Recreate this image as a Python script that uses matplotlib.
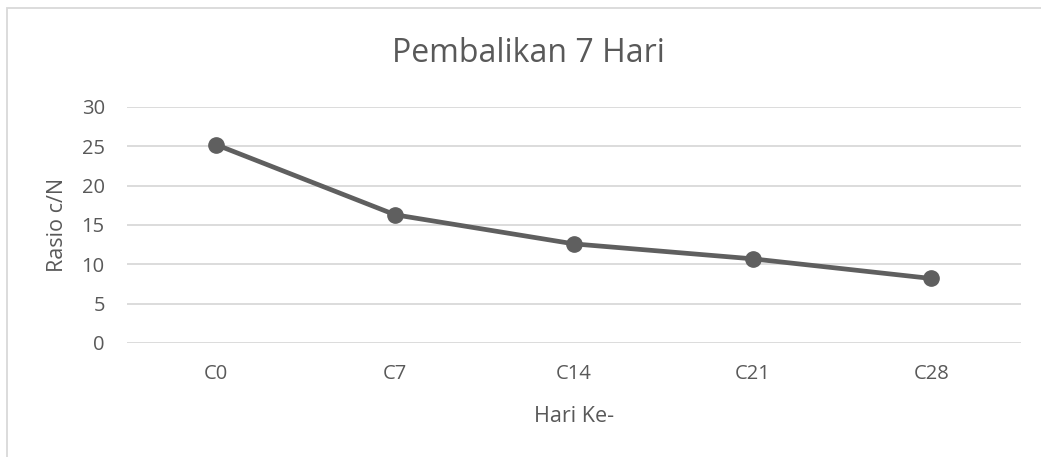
import matplotlib
matplotlib.use("Agg")
import matplotlib.pyplot as plt
from matplotlib.patches import Rectangle

categories = ["C0", "C7", "C14", "C21", "C28"]
rasio_cn = [25.2, 16.3, 12.6, 10.7, 8.2]
y_ticks = [0, 5, 10, 15, 20, 25, 30]

title = "Pembalikan 7 Hari"
xlabel = "Hari Ke-"
ylabel = "Rasio c/N"

plt.rcParams['font.family'] = ['Open Sans', 'DejaVu Sans']
text_color = "#595959"
W, H = 1041, 457

fig = plt.figure(figsize=(W / 100, H / 100), dpi=100)
fig.patches.append(Rectangle((7 / W, -0.1), 1.2, 1 - 8 / H + 0.1,
                             transform=fig.transFigure, fill=False,
                             edgecolor="#d9d9d9", linewidth=1.3))

ax = fig.add_axes([127 / W, 1 - 343 / H, (1020.7 - 127) / W, (343 - 107) / H])
x = list(range(len(categories)))
ax.plot(x, rasio_cn, color="#5f5f5f", linewidth=3.4, marker="o",
        markersize=11, solid_capstyle="round", zorder=3)

ax.set_xlim(-0.5, len(categories) - 0.5)
ax.set_ylim(0, 30)
ax.set_yticks(y_ticks)
ax.set_xticks(x)
ax.set_xticklabels(categories)
ax.yaxis.grid(True, color="#d9d9d9", linewidth=1.3)
ax.set_axisbelow(True)
for s in ax.spines.values():
    s.set_visible(False)
ax.tick_params(axis="both", length=0, labelsize=14.5, colors=text_color)
ax.tick_params(axis="y", pad=16)
ax.tick_params(axis="x", pad=15)

fig.text(574 / W, 1 - 422 / H, xlabel, ha="center", va="baseline",
         fontsize=15.5, color=text_color)
fig.text(63 / W, 1 - 225 / H, ylabel, ha="center", va="baseline",
         rotation=90, rotation_mode="anchor", fontsize=15.5, color=text_color)
fig.text(528 / W, 1 - 62 / H, title, ha="center", va="baseline",
         fontsize=23, color=text_color)

fig.savefig("out.png", dpi=100, facecolor="white")
